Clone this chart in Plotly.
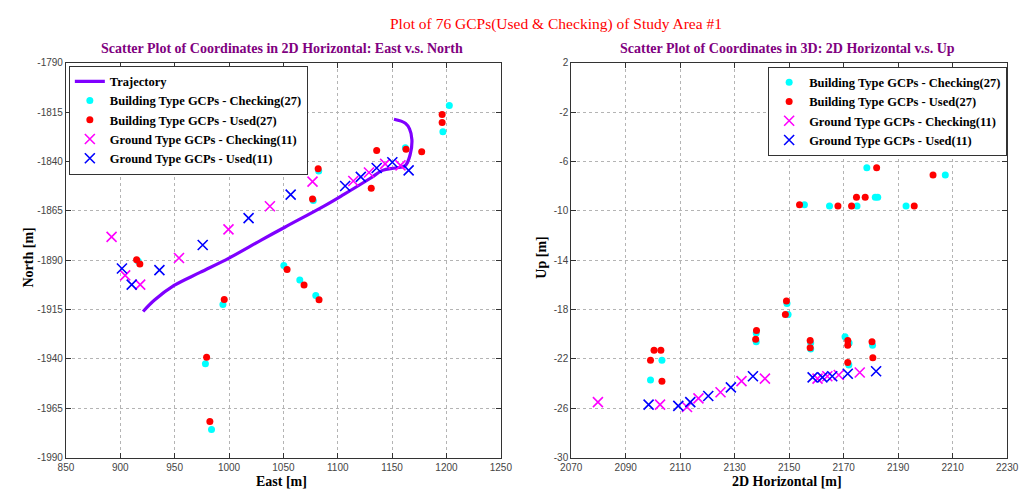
import plotly.graph_objects as go

# ---------------- data ----------------
# Left panel: East vs North
traj_east = [921, 931.5, 949.5, 973.4, 1000.4, 1030, 1051.3, 1087.3, 1105.3, 1130, 1141.2,
             1153.2, 1162.2, 1166.7, 1168.2, 1166, 1162.2, 1151.7]
traj_north = [-1916, -1910.2, -1902.8, -1896.2, -1888.8, -1879.7, -1873.3, -1862.6, -1856.8,
              -1848.5, -1844.5, -1843.3, -1842, -1836.3, -1828.9, -1823.5, -1820.6, -1818.6]

bld_chk_east = [916.5, 994.4, 978.3, 983.9, 1050.4, 1065.1, 1079.8, 1077.5, 1082.5, 1162.2, 1196.7, 1202.6]
bld_chk_north = [-1890.5, -1912.5, -1942.4, -1975.8, -1892.7, -1900.0, -1907.9, -1859.8, -1844.8,
                 -1833.0, -1825.0, -1811.6]

bld_used_east = [915, 918, 995.6, 979.4, 982.4, 1053.4, 1069, 1082.8, 1076.8, 1082, 1130.8, 1135.8,
                 1162.8, 1177.2, 1196, 1196]
bld_used_north = [-1889.8, -1891.9, -1909.9, -1939.1, -1971.7, -1894.7, -1902.6, -1910, -1859,
                  -1843.7, -1853.5, -1834.4, -1833.8, -1835.1, -1816.2, -1820.3]

gnd_chk_east = [892, 904.5, 918.3, 954, 999.5, 1037.6, 1076.8, 1114.3, 1128.7, 1143.6, 1157.7]
gnd_chk_north = [-1878.2, -1897.7, -1902.4, -1888.9, -1874.4, -1862.7, -1850.2, -1849.9, -1845.6,
                 -1841.2, -1842]

gnd_used_east = [901.5, 910.5, 936, 975.8, 1018, 1056.7, 1106.8, 1121.2, 1135.8, 1150.2, 1165.2]
gnd_used_north = [-1894.2, -1902.4, -1895, -1882.3, -1868.7, -1856.8, -1852.4, -1847.8, -1843.3,
                  -1840.4, -1844.5]

# Right panel: 2D horizontal vs Up
bld_chk_h = [2099.1, 2103.3, 2137.9, 2137.9, 2149.2, 2149.6, 2155.6, 2157.9, 2157.9, 2164.8, 2170.5,
             2172.0, 2171.9, 2174.9, 2174.7, 2178.5, 2180.6, 2181.6, 2182.5, 2192.9, 2207.3]
bld_chk_up = [-23.7, -22.1, -19.9, -20.6, -17.5, -18.4, -9.5, -20.7, -21.2, -9.6, -20.2,
              -20.7, -22.5, -9.6, -4.6, -6.5, -20.9, -8.9, -8.9, -9.6, -7.1]

bld_used_h = [2099.1, 2100.4, 2102.9, 2103.3, 2138.0, 2137.7, 2149.0, 2148.6, 2153.8, 2157.7, 2157.7,
              2167.9, 2171.5, 2171.5, 2171.5, 2172.9, 2174.7, 2177.9, 2180.4, 2180.7, 2182.1, 2195.9, 2202.8]
bld_used_up = [-22.1, -21.3, -21.3, -23.8, -19.7, -20.4, -17.3, -18.4, -9.5, -20.5, -21.1,
               -9.6, -20.5, -20.9, -22.3, -9.6, -8.9, -8.9, -20.6, -21.9, -6.5, -9.6, -7.1]

gnd_chk_h = [2079.8, 2102.6, 2112.5, 2116.7, 2124.8, 2132.5, 2141.1, 2160.4, 2164.0, 2168.2, 2175.9]
gnd_chk_up = [-25.5, -25.7, -25.9, -25.2, -24.7, -23.8, -23.6, -23.6, -23.4, -23.3, -23.1]

gnd_used_h = [2098.4, 2109.3, 2113.7, 2120.3, 2128.6, 2136.7, 2158.6, 2162.2, 2165.8, 2171.5, 2181.9]
gnd_used_up = [-25.7, -25.8, -25.5, -25.0, -24.3, -23.4, -23.5, -23.5, -23.4, -23.2, -23.0]

names = ["Building Type GCPs - Checking(27)", "Building Type GCPs - Used(27)",
         "Ground Type GCPs - Checking(11)", "Ground Type GCPs - Used(11)"]

left_x_ticks = list(range(850, 1251, 50))
left_y_ticks = list(range(-1990, -1789, 25))
right_x_ticks = list(range(2070, 2231, 20))
right_y_ticks = list(range(-30, 3, 4))

# ---------------- layout helpers ----------------
# The page body keeps the browser's default 8 px margin, so the figure is
# sized to fill the 1033x497 window exactly inside that margin.
PAGE_W, PAGE_H, BODY_M = 1033, 497, 8
W, H = PAGE_W - 2 * BODY_M, PAGE_H - 2 * BODY_M


def X(px):
    return (px - BODY_M) / W


def Y(py):
    return 1 - (py - BODY_M) / H


SERIF = "Liberation Serif"
SANS = "Liberation Sans"
dot_c = dict(symbol="circle", size=7, color="#00FFFF")
dot_r = dict(symbol="circle", size=7, color="#FF0000")
x_m = dict(symbol="x-thin-open", size=10, color="#FF00FF", line=dict(color="#FF00FF", width=1.6))
x_b = dict(symbol="x-thin-open", size=10, color="#0000FF", line=dict(color="#0000FF", width=1.6))

fig = go.Figure()

# left panel
fig.add_trace(go.Scatter(x=traj_east, y=traj_north, mode="lines", name="Trajectory",
                         line=dict(color="#7F00FF", width=3.2, shape="spline"),
                         xaxis="x", yaxis="y", legend="legend"))
for xs, ys, nm, mk in [(bld_chk_east, bld_chk_north, names[0], dot_c),
                       (bld_used_east, bld_used_north, names[1], dot_r),
                       (gnd_chk_east, gnd_chk_north, names[2], x_m),
                       (gnd_used_east, gnd_used_north, names[3], x_b)]:
    fig.add_trace(go.Scatter(x=xs, y=ys, mode="markers", name=nm, marker=mk,
                             xaxis="x", yaxis="y", legend="legend"))
# right panel
for xs, ys, nm, mk in [(bld_chk_h, bld_chk_up, names[0], dot_c),
                       (bld_used_h, bld_used_up, names[1], dot_r),
                       (gnd_chk_h, gnd_chk_up, names[2], x_m),
                       (gnd_used_h, gnd_used_up, names[3], x_b)]:
    fig.add_trace(go.Scatter(x=xs, y=ys, mode="markers", name=nm, marker=mk,
                             xaxis="x2", yaxis="y2", legend="legend2"))


def axis(domain, anchor, rng, ticks):
    return dict(domain=domain, anchor=anchor, range=rng, tickvals=ticks,
                ticktext=[str(t) for t in ticks],
                showgrid=True, gridcolor="#b4b4b4", griddash="dot", gridwidth=1,
                zeroline=False, showline=True, linecolor="#333333", linewidth=1, mirror="ticks",
                ticks="inside", ticklen=5, tickcolor="#333333",
                tickfont=dict(family=SANS, size=10, color="#444444"))


yd = [Y(463), Y(58)]
legend_font = dict(family=SERIF, size=12.5, color="black", weight="bold")
fig.update_layout(
    width=W, height=H, margin=dict(l=0, r=0, t=0, b=0), autosize=False,
    paper_bgcolor="white", plot_bgcolor="white",
    xaxis=axis([X(56), X(501)], "y", [850, 1250], left_x_ticks),
    yaxis=axis(yd, "x", [-1990, -1790], left_y_ticks),
    xaxis2=axis([X(573), X(1019)], "y2", [2070, 2230], right_x_ticks),
    yaxis2=axis(yd, "x2", [-30, 2], right_y_ticks),
    legend=dict(x=X(59), y=Y(61), xanchor="left", yanchor="top",
                bgcolor="white", bordercolor="#333333", borderwidth=1,
                font=legend_font, itemwidth=30, tracegroupgap=0),
    legend2=dict(x=X(1019), y=Y(62), xanchor="right", yanchor="top",
                 bgcolor="white", bordercolor="#333333", borderwidth=1,
                 font=legend_font, itemwidth=30, tracegroupgap=0),
    showlegend=True,
)

ann = [
    dict(text="Plot of 76 GCPs(Used & Checking) of Study Area #1", x=X(557), y=Y(18),
         font=dict(family=SERIF, size=15.5, color="#FF0000")),
    dict(text="<b>Scatter Plot of Coordinates in 2D Horizontal: East v.s. North</b>", x=X(277),
         y=Y(43), font=dict(family=SERIF, size=14, color="#800080")),
    dict(text="<b>Scatter Plot of Coordinates in 3D: 2D Horizontal v.s. Up</b>", x=X(794),
         y=Y(43), font=dict(family=SERIF, size=14, color="#800080")),
    dict(text="<b>East [m]</b>", x=X(277), y=Y(487),
         font=dict(family=SERIF, size=14, color="black")),
    dict(text="<b>2D Horizontal [m]</b>", x=X(794), y=Y(487),
         font=dict(family=SERIF, size=14, color="black")),
    dict(text="<b>North [m]</b>", x=X(18), y=Y(258), textangle=-90,
         font=dict(family=SERIF, size=14, color="black")),
    dict(text="<b>Up [m]</b>", x=X(543), y=Y(258), textangle=-90,
         font=dict(family=SERIF, size=14, color="black")),
]
for a in ann:
    a.update(xref="paper", yref="paper", showarrow=False, xanchor="center", yanchor="middle")
fig.update_layout(annotations=ann)

fig.write_html("out.html")
